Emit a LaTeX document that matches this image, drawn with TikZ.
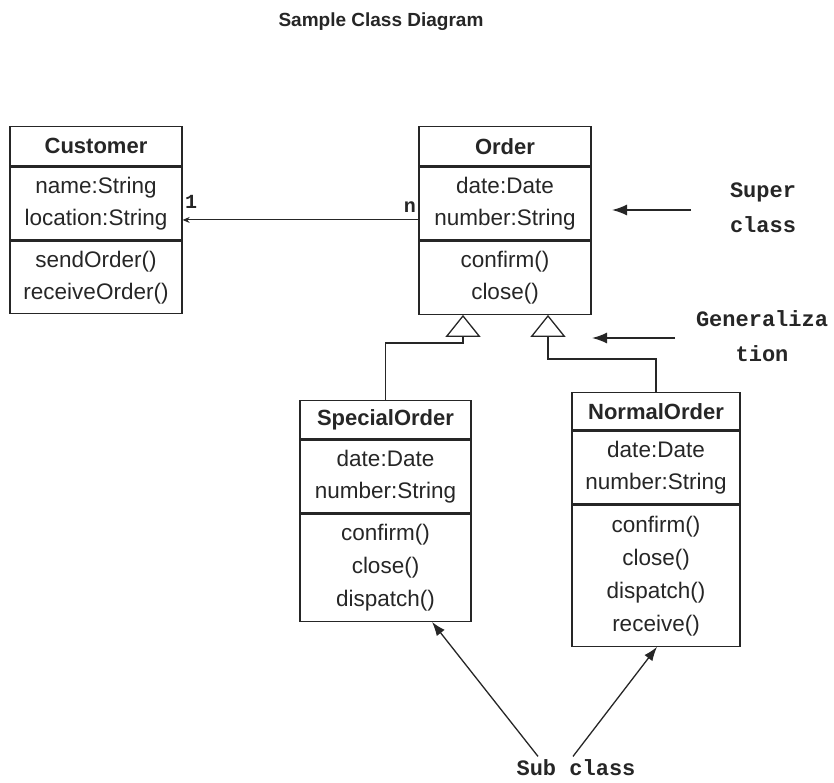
\documentclass[tikz,border=0pt]{standalone}
\usepackage{fontspec}
\setmainfont{Liberation Sans}
\newfontfamily\notefont{Liberation Mono}
\usetikzlibrary{positioning,arrows.meta}
\definecolor{ink}{HTML}{262626}

\begin{document}
\begin{tikzpicture}[x=1pt, y=-1pt, >=Stealth,
  every node/.style={text=ink},
  classname/.style={draw=ink, line width=1.3pt, inner sep=0pt,
    font=\bfseries\fontsize{22}{25}\selectfont},
  classpart/.style={draw=ink, line width=1.3pt, inner sep=0pt, align=center,
    font=\fontsize{22.5}{32}\selectfont},
  note/.style={font=\notefont\bfseries\fontsize{22}{35}\selectfont, align=center},
  mult/.style={font=\notefont\bfseries\fontsize{20}{22}\selectfont, inner sep=2pt},
  assoc/.style={draw=ink, line width=1pt, -{Stealth[length=7pt,width=6pt]}},
  inherit/.style={draw=ink, line width=1.3pt, -{Triangle[open,length=22pt,width=35pt]}},
  pointer/.style={draw=ink, line width=1.5pt, -{Latex[length=15pt,width=11pt]}}]

\useasboundingbox (0,0) rectangle (834,782);

\node [font=\bfseries\fontsize{19}{22}\selectfont] (title) at (381,22) {Sample Class Diagram};

% Customer
\node [classname, anchor=north, minimum width=172pt, minimum height=39pt] (cust-name) at (96,126) {Customer};
\node [classpart, below=0pt of cust-name, minimum width=172pt, minimum height=73pt] (cust-attr) {name:String\\location:String};
\node [classpart, below=0pt of cust-attr, minimum width=172pt, minimum height=72pt] (cust-meth) {sendOrder()\\receiveOrder()};

% Order
\node [classname, anchor=north, minimum width=172pt, minimum height=39pt] (order-name) at (505,126) {Order};
\node [classpart, below=0pt of order-name, minimum width=172pt, minimum height=73pt] (order-attr) {date:Date\\number:String};
\node [classpart, below=0pt of order-attr, minimum width=172pt, minimum height=73pt] (order-meth) {confirm()\\close()};

% SpecialOrder
\node [classname, anchor=north, minimum width=171pt, minimum height=38pt] (special-name) at (385.5,400) {SpecialOrder};
\node [classpart, below=0pt of special-name, minimum width=171pt, minimum height=73pt] (special-attr) {date:Date\\number:String};
\node [classpart, below=0pt of special-attr, minimum width=171pt, minimum height=107pt,
  font=\fontsize{22.5}{33}\selectfont] (special-meth) {confirm()\\close()\\dispatch()};

% NormalOrder
\node [classname, anchor=north, minimum width=168pt, minimum height=37pt] (normal-name) at (656,392) {NormalOrder};
\node [classpart, below=0pt of normal-name, minimum width=168pt, minimum height=73pt] (normal-attr) {date:Date\\number:String};
\node [classpart, below=0pt of normal-attr, minimum width=168pt, minimum height=141pt,
  font=\fontsize{22.5}{33}\selectfont] (normal-meth) {confirm()\\close()\\dispatch()\\receive()};

% association
\draw [assoc] ([yshift=-16.5pt]order-attr.west) -- ([yshift=-16.5pt]cust-attr.east)
  node [mult, pos=0, above left, yshift=5pt] {n}
  node [mult, pos=1, above right, yshift=9pt] {1};

% generalization
\coordinate (bend-special) at (463,343);
\coordinate (bend-normal) at (548,359);
\draw [inherit] (special-name.north) |- (bend-special) -- (bend-special |- order-meth.south);
\draw [inherit] (normal-name.north) |- (bend-normal) -- (bend-normal |- order-meth.south);

% notes
\node [note] (super) at (763,208) {Super\\class};
\coordinate (super-tail) at (691,210);
\coordinate (super-head) at (612,210);
\draw [pointer] (super-tail) -- (super-head);

\node [note] (general) at (762,336) {Generaliza\\tion};
\coordinate (general-tail) at (675,338);
\coordinate (general-head) at (592,338);
\draw [pointer] (general-tail) -- (general-head);

\node [note] (sub) at (576,768) {Sub class};
\draw [draw=ink, line width=1.3pt, -{Latex[length=14pt,width=10pt]}]
  ([xshift=-38pt,yshift=0pt]sub.north) -- ([xshift=46.5pt]special-meth.south);
\draw [draw=ink, line width=1.3pt, -{Latex[length=14pt,width=10pt]}]
  ([xshift=-3pt,yshift=0pt]sub.north) -- ([xshift=1pt]normal-meth.south);

\end{tikzpicture}
\end{document}
